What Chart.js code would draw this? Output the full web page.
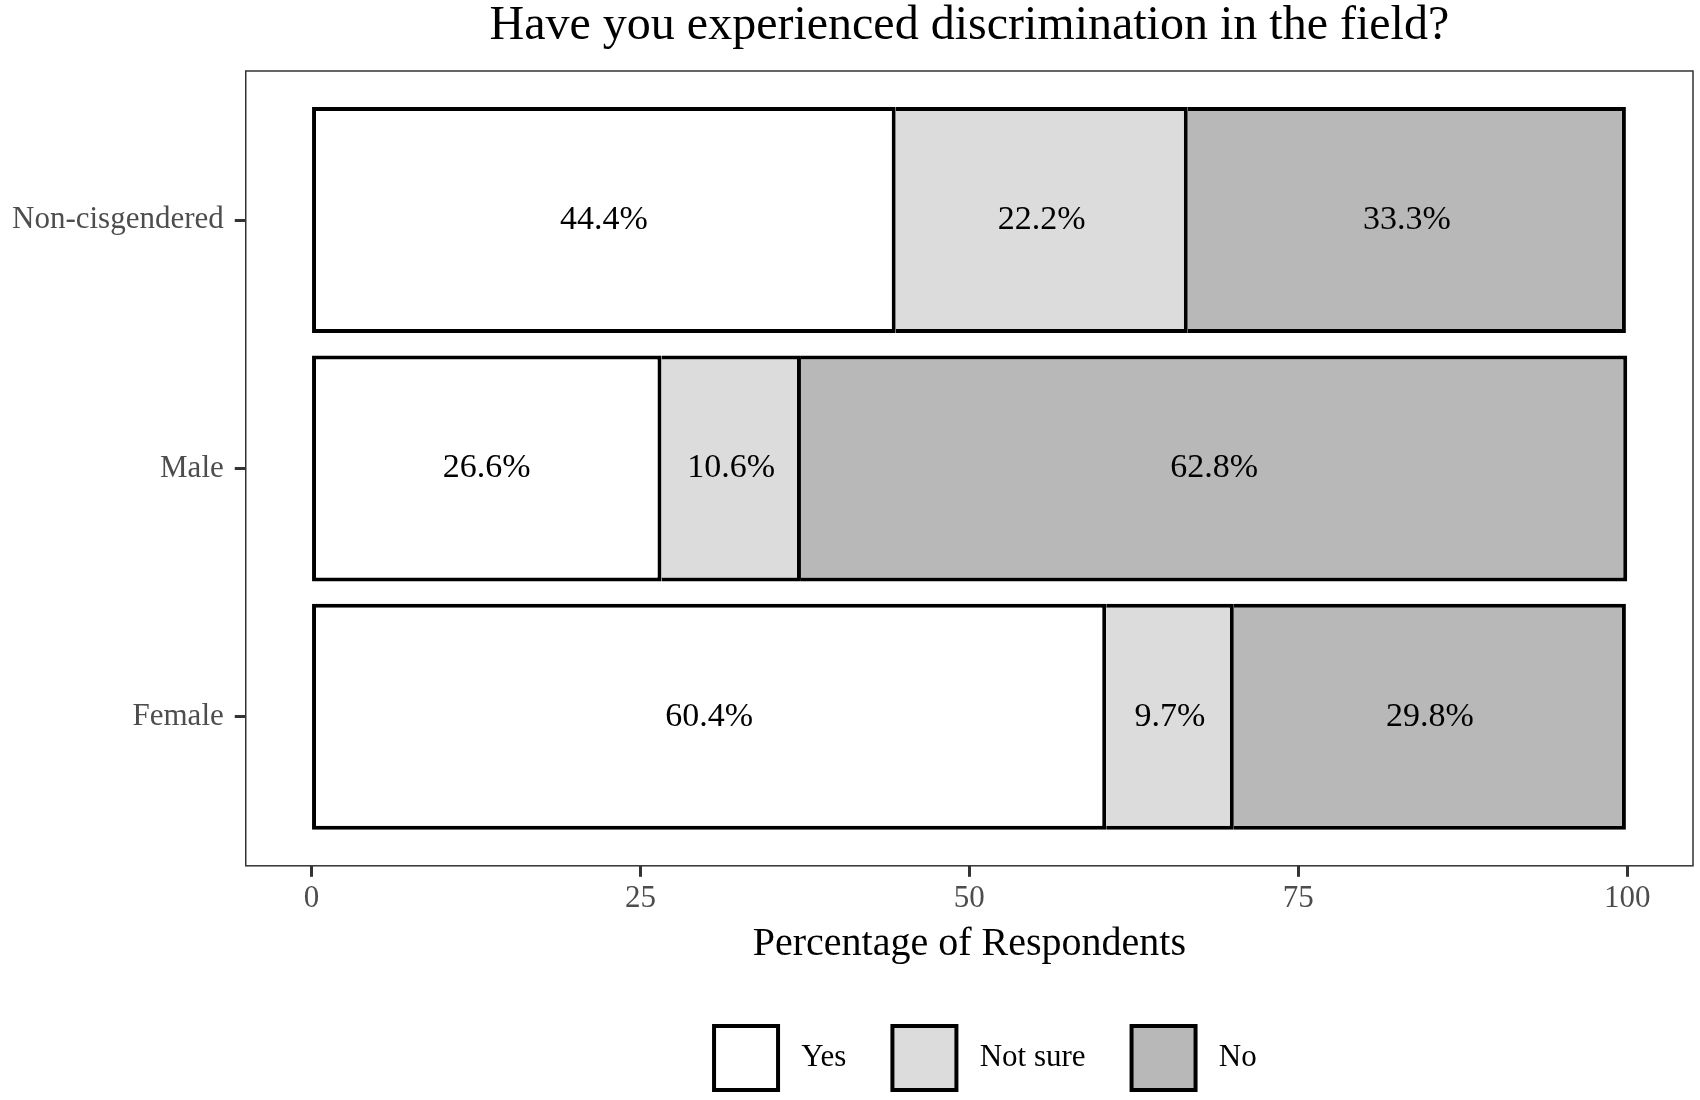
<!DOCTYPE html>
<html>
<head>
<meta charset="utf-8">
<title>Have you experienced discrimination in the field?</title>
<script src="https://cdn.jsdelivr.net/npm/chart.js@4.4.1/dist/chart.umd.min.js"></script>
<style>
  body { margin: 0; background: #fff; }
  canvas { display: block; }
</style>
</head>
<body>
<canvas id="discriminationChart" width="1700" height="1100"></canvas>
<script>
// Gender groups, top to bottom
const categories = ['Non-cisgendered', 'Male', 'Female'];
const seriesNames = ['Yes', 'Not sure', 'No'];

// Percentage of respondents per answer
const yesValues = [44.4, 26.6, 60.4];
const notSureValues = [22.2, 10.6, 9.7];
const noValues = [33.3, 62.8, 29.8];

const xTicks = [0, 25, 50, 75, 100];

const serif = "'Liberation Serif', 'Times New Roman', serif";

// y is a linear scale (1, 2, 3) so the panel can have ggplot-like padding
function toPoints(values) {
    return values.map(function(v, i) { return { x: v, y: i + 1 }; });
}

// Box around the plotting panel
const panelBorder = {
    id: 'panelBorder',
    afterDatasetsDraw(chart) {
        const { ctx, chartArea } = chart;
        ctx.save();
        ctx.strokeStyle = '#333333';
        ctx.lineWidth = 1.5;
        ctx.strokeRect(chartArea.left, chartArea.top, chartArea.right - chartArea.left, chartArea.bottom - chartArea.top);
        ctx.restore();
    }
};

// Percent labels in the middle of each segment
const segmentLabels = {
    id: 'segmentLabels',
    afterDatasetsDraw(chart) {
        const ctx = chart.ctx;
        ctx.save();
        ctx.font = '34px ' + serif;
        ctx.fillStyle = '#000';
        ctx.textAlign = 'center';
        ctx.textBaseline = 'middle';
        chart.data.datasets.forEach(function(ds, di) {
            const meta = chart.getDatasetMeta(di);
            meta.data.forEach(function(bar, i) {
                const p = bar.getProps(['x', 'y', 'base'], true);
                ctx.fillText(ds.data[i].x.toFixed(1) + '%', (p.x + p.base) / 2, p.y);
            });
        });
        ctx.restore();
    }
};

// nudge the legend a bit right, like the original
const legendShift = {
    id: 'legendShift',
    beforeDraw(chart) {
        if (chart.legend && !chart.legend._shifted) {
            chart.legend.left += 16;
            chart.legend.right += 16;
            chart.legend._shifted = true;
        }
    }
};

document.addEventListener('DOMContentLoaded', function() {
    const ctx = document.getElementById('discriminationChart').getContext('2d');
    const chart = new Chart(ctx, {
        type: 'bar',
        data: {
            datasets: [{
                label: seriesNames[0],
                data: toPoints(yesValues),
                backgroundColor: '#FFFFFF',
                borderColor: '#000000',
                borderWidth: 4,
                borderSkipped: false
            }, {
                label: seriesNames[1],
                data: toPoints(notSureValues),
                backgroundColor: '#DCDCDC',
                borderColor: '#000000',
                borderWidth: 4,
                borderSkipped: 'start'
            }, {
                label: seriesNames[2],
                data: toPoints(noValues),
                backgroundColor: '#B8B8B8',
                borderColor: '#000000',
                borderWidth: 4,
                borderSkipped: 'start'
            }]
        },
        options: {
            responsive: false,
            animation: false,
            indexAxis: 'y',
            layout: {
                padding: { left: 1, right: 7, top: 2, bottom: 0 }
            },
            datasets: {
                bar: {
                    barPercentage: 0.91,
                    categoryPercentage: 1
                }
            },
            plugins: {
                title: {
                    display: true,
                    text: 'Have you experienced discrimination in the field?',
                    fullSize: false,
                    color: '#000',
                    font: { family: serif, size: 48, weight: 'normal', lineHeight: 1.0 },
                    padding: { top: 0, bottom: 21 }
                },
                legend: {
                    position: 'bottom',
                    fullSize: false,
                    labels: {
                        color: '#000',
                        font: { family: serif, size: 31 },
                        boxWidth: 64,
                        boxHeight: 64,
                        padding: 46,
                        generateLabels: function(chart) {
                            const items = Chart.defaults.plugins.legend.labels.generateLabels(chart);
                            items.forEach(function(item) { item.text = ' ' + item.text; });
                            return items;
                        }
                    }
                },
                tooltip: { enabled: false }
            },
            scales: {
                x: {
                    type: 'linear',
                    stacked: true,
                    min: -5,
                    max: 105,
                    afterBuildTicks: function(axis) {
                        axis.ticks = xTicks.map(function(v) { return { value: v }; });
                    },
                    border: { display: false },
                    grid: {
                        drawOnChartArea: false,
                        drawTicks: true,
                        tickLength: 11,
                        tickWidth: 3,
                        tickColor: '#333333'
                    },
                    ticks: {
                        color: '#4D4D4D',
                        padding: 3,
                        font: { family: serif, size: 31 }
                    },
                    title: {
                        display: true,
                        text: 'Percentage of Respondents',
                        color: '#000',
                        font: { family: serif, size: 40 },
                        padding: { top: 0, bottom: 12 }
                    }
                },
                y: {
                    type: 'linear',
                    stacked: true,
                    reverse: true,
                    offset: false,
                    min: 0.4,
                    max: 3.6,
                    afterBuildTicks: function(axis) {
                        axis.ticks = categories.map(function(c, i) { return { value: i + 1 }; });
                    },
                    border: { display: false },
                    grid: {
                        offset: false,
                        drawOnChartArea: false,
                        drawTicks: true,
                        tickLength: 11,
                        tickWidth: 3,
                        tickColor: '#333333'
                    },
                    ticks: {
                        color: '#4D4D4D',
                        padding: 11,
                        font: { family: serif, size: 31 },
                        callback: function(value) {
                            return categories[value - 1];
                        }
                    }
                }
            }
        },
        plugins: [panelBorder, segmentLabels, legendShift]
    });
});
</script>
</body>
</html>
